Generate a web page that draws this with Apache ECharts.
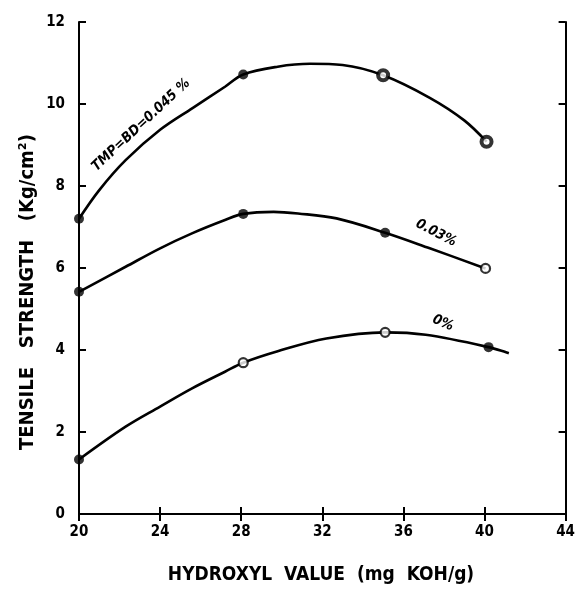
<!DOCTYPE html>
<html>
<head>
<meta charset="utf-8">
<script src="https://cdn.jsdelivr.net/npm/echarts@6/dist/echarts.min.js"></script>
<style>
  html, body { margin: 0; padding: 0; background: #fff; }
  #main { width: 578px; height: 589px; }
</style>
</head>
<body>
<div id="main"></div>
<script>
// x ticks / y ticks
const xTicks = [20, 24, 28, 32, 36, 40, 44]
const yTicks = [0, 2, 4, 6, 8, 10, 12]

// measured points (hydroxyl value, tensile strength)
const pts045 = [[20, 7.2], [28.1, 10.72], [35, 10.7], [40.1, 9.08]]
const pts003 = [[20, 5.42], [28.1, 7.32], [35.1, 6.86], [40.05, 5.99]]
const pts0 = [[20, 1.33], [28.1, 3.69], [35.1, 4.43], [40.2, 4.07]]

// kind of marker for each point: solid dot, dotted ring, open ring
const kind045 = ['solid', 'solid', 'dot', 'dot']
const kind003 = ['solid', 'solid', 'solid', 'open']
const kind0 = ['solid', 'open', 'open', 'solid']

// fitted curves as drawn in the figure
const curve045 = [[20, 7.2], [21, 7.9], [22.3, 8.63], [24, 9.37], [25.6, 9.9], [27.2, 10.42], [28.1, 10.72],
    [29.8, 10.91], [31.4, 10.98], [33, 10.95], [35, 10.7], [37.3, 10.15], [39, 9.6], [40.1, 9.08]]
const curve003 = [[20, 5.42], [22.3, 6.03], [24, 6.48], [25.6, 6.85], [27.2, 7.17], [28.1, 7.32], [29.6, 7.37],
    [30.8, 7.33], [32.7, 7.21], [35.1, 6.86], [37.3, 6.48], [40.05, 5.99]]
const curve0 = [[20, 1.33], [22.3, 2.13], [24, 2.62], [25.6, 3.07], [27.2, 3.47], [28.1, 3.69], [29.8, 3.97],
    [32.2, 4.28], [35.1, 4.43], [37.1, 4.37], [40.2, 4.07], [41.2, 3.92]]

const labelFont = '"DejaVu Sans Condensed", "DejaVu Sans", sans-serif'

const markerData = function (pts, kinds) {
    return pts.map(function (p, i) {
        const k = kinds[i]
        if (k === 'solid') {
            return { value: p, symbolSize: 10, itemStyle: { color: '#000', borderWidth: 0 } }
        }
        if (k === 'dot') {
            return { value: p, symbolSize: 10, itemStyle: { color: '#fff', borderColor: '#000', borderWidth: 4 } }
        }
        return { value: p, symbolSize: 9, itemStyle: { color: '#fff', borderColor: '#000', borderWidth: 2.2 } }
    })
}

const curveSeries = function (data) {
    return {
        type: 'line',
        data: data,
        smooth: 0.35,
        showSymbol: false,
        symbol: 'none',
        clip: false,
        lineStyle: { color: '#000', width: 2.6 },
        z: 2
    }
}

const markerSeries = function (pts, kinds) {
    return {
        type: 'scatter',
        symbol: 'circle',
        data: markerData(pts, kinds),
        clip: false,
        z: 3
    }
}

const axisCommon = {
    axisLine: { show: true, lineStyle: { color: '#000', width: 2 } },
    axisTick: { show: true, inside: true, length: 7, lineStyle: { color: '#000', width: 2 } },
    splitLine: { show: false }
}

const myChart = echarts.init(document.getElementById('main'), null, { renderer: 'canvas' })

myChart.setOption({
    animation: false,
    backgroundColor: '#fff',
    grid: {
        left: 79,
        right: 7,
        top: 22,
        bottom: 75
    },
    xAxis: [
        Object.assign({
            type: 'value',
            position: 'bottom',
            min: xTicks[0],
            max: xTicks[xTicks.length - 1],
            interval: 4,
            axisLabel: {
                color: '#000',
                fontFamily: labelFont,
                fontWeight: 'bold',
                fontSize: 15,
                margin: 11
            }
        }, axisCommon),
        Object.assign({
            type: 'value',
            position: 'top',
            min: xTicks[0],
            max: xTicks[xTicks.length - 1],
            interval: 4,
            axisLabel: { show: false }
        }, axisCommon)
    ],
    yAxis: [
        Object.assign({
            type: 'value',
            position: 'left',
            min: yTicks[0],
            max: yTicks[yTicks.length - 1],
            interval: 2,
            axisLabel: {
                color: '#000',
                fontFamily: labelFont,
                fontWeight: 'bold',
                fontSize: 15,
                margin: 14
            }
        }, axisCommon),
        Object.assign({
            type: 'value',
            position: 'right',
            min: yTicks[0],
            max: yTicks[yTicks.length - 1],
            interval: 2,
            axisLabel: { show: false }
        }, axisCommon)
    ],
    series: [
        curveSeries(curve045),
        curveSeries(curve003),
        curveSeries(curve0),
        markerSeries(pts045, kind045),
        markerSeries(pts003, kind003),
        markerSeries(pts0, kind0)
    ],
    graphic: [
        {
            type: 'text',
            x: 321,
            y: 575,
            style: {
                text: 'HYDROXYL  VALUE  (mg  KOH/g)',
                font: 'bold 19px ' + labelFont,
                fill: '#000',
                align: 'center',
                verticalAlign: 'middle'
            }
        },
        {
            type: 'text',
            x: 28,
            y: 292,
            rotation: Math.PI / 2,
            style: {
                text: 'TENSILE   STRENGTH   (Kg/cm²)',
                font: 'bold 20px ' + labelFont,
                fill: '#000',
                align: 'center',
                verticalAlign: 'middle'
            }
        },
        {
            type: 'text',
            x: 141,
            y: 125,
            rotation: 43 * Math.PI / 180,
            style: {
                text: 'TMP=BD=0.045 %',
                font: 'italic bold 14px ' + labelFont,
                fill: '#000',
                align: 'center',
                verticalAlign: 'middle'
            }
        },
        {
            type: 'text',
            x: 436,
            y: 233,
            rotation: -27 * Math.PI / 180,
            style: {
                text: '0.03%',
                font: 'italic bold 14px ' + labelFont,
                fill: '#000',
                align: 'center',
                verticalAlign: 'middle'
            }
        },
        {
            type: 'text',
            x: 443,
            y: 323,
            rotation: -22 * Math.PI / 180,
            style: {
                text: '0%',
                font: 'italic bold 14px ' + labelFont,
                fill: '#000',
                align: 'center',
                verticalAlign: 'middle'
            }
        }
    ]
})
</script>
</body>
</html>
